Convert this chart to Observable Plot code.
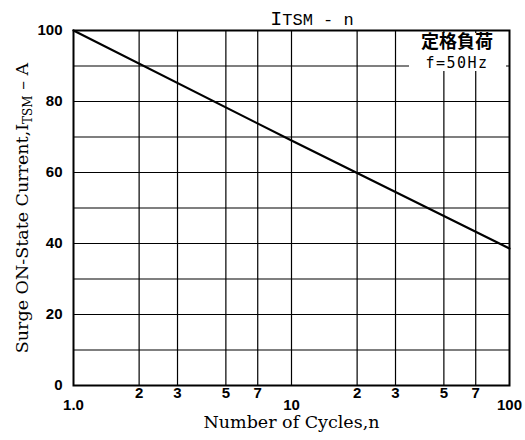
<!DOCTYPE html>
<html><head><meta charset="utf-8">
<script src="https://cdn.jsdelivr.net/npm/d3@7"></script>
<script src="https://cdn.jsdelivr.net/npm/@observablehq/plot@0.6"></script>
<style>body{margin:0;background:#fff}</style>
</head><body><div id="chart"></div>
<script>
const cycles = [1, 10, 100];
const current = [100, 69, 38.6];
const yTicks = [0, 20, 40, 60, 80, 100];
const yGrid = [10, 20, 30, 40, 50, 60, 70, 80, 90];
const xGrid = [2, 3, 5, 7, 10, 20, 30, 50, 70];
const xMajorTicks = [1, 10, 100];
const xMajorLabels = ["1.0", "10", "100"];
const xMinorTicks = [2, 3, 5, 7, 20, 30, 50, 70];
const xMinorLabels = ["2", "3", "5", "7", "2", "3", "5", "7"];
const legendLines = ["定格負荷", "f=50Hz"];

const data = cycles.map((n, i) => ({n, i: current[i]}));
const tickFont = {fontSize: 15, fontWeight: "bold", fill: "#000"};

const chart = Plot.plot({
  width: 525, height: 440,
  marginLeft: 73, marginRight: 16, marginTop: 30, marginBottom: 55,
  x: {type: "log", domain: [1, 100]},
  y: {domain: [0, 100]},
  style: {background: "#fff", color: "#000", fontFamily: "Liberation Sans, Arial, sans-serif"},
  marks: [
    Plot.gridX(xGrid, {stroke: "#000", strokeOpacity: 1, strokeWidth: 1.2}),
    Plot.gridY(yGrid, {stroke: "#000", strokeOpacity: 1, strokeWidth: 1.2}),
    Plot.line(data, {x: "n", y: "i", stroke: "#000", strokeWidth: 2.2}),
    Plot.frame({stroke: "#000", strokeWidth: 2}),
    Plot.axisY(yTicks, {tickSize: 0, tickPadding: 11, ...tickFont,
      label: "Surge ON-State Current,I_TSM – A", labelAnchor: "center", labelArrow: "none", labelOffset: 58}),
    Plot.axisX(xMajorTicks, {tickSize: 0, tickPadding: 14, ...tickFont, text: null, tickFormat: () => "",
      label: "Number of Cycles,n", labelAnchor: "center", labelArrow: "none", labelOffset: 42}),
    Plot.text(xMajorTicks, {x: (d) => d, text: (d, i) => xMajorLabels[i], frameAnchor: "bottom",
      lineAnchor: "top", dy: 14, ...tickFont}),
    Plot.text(xMinorTicks, {x: (d) => d, text: (d, i) => xMinorLabels[i], frameAnchor: "bottom",
      lineAnchor: "top", dy: 2, ...tickFont})
  ]
});
document.getElementById("chart").appendChild(chart);

const svg = d3.select(chart);
svg.selectAll("g[aria-label='y-axis label'] text, g[aria-label='x-axis label'] text")
  .style("font-family", "DejaVu Serif, Liberation Serif, serif").style("font-size", "17.5px").style("font-weight", "normal");
const yl = svg.select("g[aria-label='y-axis label'] text");
if (!yl.empty()) {
  yl.text(null);
  yl.append("tspan").text("Surge ON-State Current,I");
  yl.append("tspan").attr("font-size", "12px").attr("dy", "4").text("TSM");
  yl.append("tspan").attr("dy", "-4").text(" – A");
}
const title = svg.append("text").attr("x", 312).attr("y", 25).attr("text-anchor", "middle")
  .style("font-family", "Liberation Mono, DejaVu Sans Mono, monospace");
title.append("tspan").attr("font-size", "20px").text("I");
title.append("tspan").attr("font-size", "17px").text("TSM - n");
const g = svg.append("g");
g.append("rect").attr("x", 409).attr("y", 33).attr("width", 97).attr("height", 38).attr("fill", "#fff");
g.append("text").attr("x", 457).attr("y", 48).attr("text-anchor", "middle")
  .style("font-family", "Noto Sans CJK JP, sans-serif").style("font-size", "18px").style("font-weight", "bold").text(legendLines[0]);
g.append("text").attr("x", 457).attr("y", 68).attr("text-anchor", "middle")
  .style("font-family", "DejaVu Sans Mono, monospace").style("font-size", "15px").style("letter-spacing", "1.5px").text(legendLines[1]);
</script>
</body></html>
